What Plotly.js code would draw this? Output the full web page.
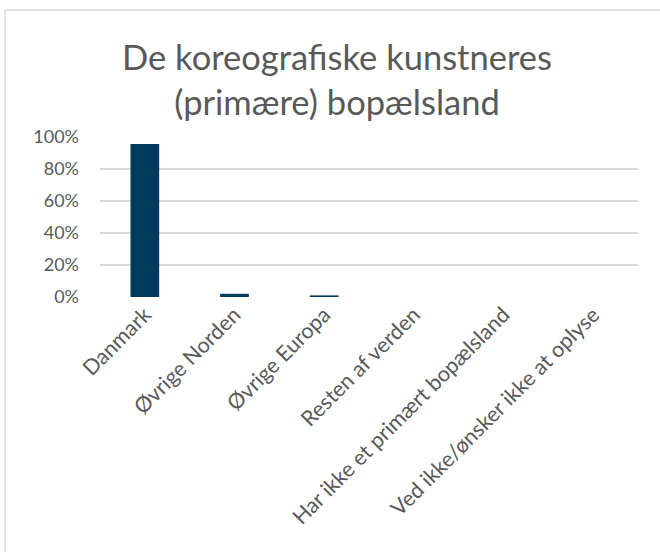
<!DOCTYPE html>
<html>
<head>
<meta charset="utf-8">
<script src="https://cdn.plot.ly/plotly-3.0.1.min.js"></script>
<style>
  html, body { margin: 0; padding: 0; background: #ffffff; }
  #chart { width: 660px; height: 552px; }
</style>
</head>
<body>
<div id="chart"></div>
<script>
const categories = [
  "Danmark",
  "Øvrige Norden",
  "Øvrige Europa",
  "Resten af verden",
  "Har ikke et primært bopælsland",
  "Ved ikke/ønsker ikke at oplyse"
];
const values = [95.6, 2.0, 1.0, 0, 0, 0];
const tickValues = [0, 20, 40, 60, 80, 100];
const tickLabels = ["0%", "20%", "40%", "60%", "80%", "100%"];

const fontFamily = "Lato, 'Open Sans', sans-serif";
const grey = "#595959";

const trace = {
  type: "bar",
  x: categories,
  y: values,
  marker: { color: "#003a5c" },
  width: 0.32,
  hoverinfo: "x+y"
};

const plotW = 538;
const layout = {
  width: 660,
  height: 552,
  margin: { l: 100, r: 22, t: 137, b: 255 },
  paper_bgcolor: "#ffffff",
  plot_bgcolor: "#ffffff",
  showlegend: false,
  font: { family: fontFamily, color: grey, size: 17 },
  title: {
    text: "De koreografiske kunstneres<br>(primære) bopælsland",
    font: { family: fontFamily, size: 34.5, color: grey },
    x: 337 / 660,
    xanchor: "center",
    xref: "container",
    y: 1 - 70 / 552,
    yanchor: "middle",
    yref: "container"
  },
  xaxis: {
    type: "category",
    tickangle: -45,
    showgrid: false,
    showline: false,
    zeroline: false,
    ticks: "",
    tickfont: { family: fontFamily, size: 21.5, color: grey },
    fixedrange: true
  },
  yaxis: {
    range: [0, 100],
    tickvals: tickValues,
    ticktext: tickLabels,
    showgrid: true,
    gridcolor: "#d9d9d9",
    gridwidth: 1.5,
    zeroline: false,
    showline: false,
    ticks: "",
    ticklabelstandoff: 20,
    tickfont: { family: fontFamily, size: 18, color: grey },
    fixedrange: true
  },
  shapes: [
    {
      type: "line", xref: "paper", yref: "paper",
      x0: (5 - 100) / plotW, x1: (5 - 100) / plotW,
      y0: -3, y1: (297 - 10) / 160,
      line: { color: "#d9d9d9", width: 1.5 }
    },
    {
      type: "line", xref: "paper", yref: "paper",
      x0: (5 - 100) / plotW, x1: 2,
      y0: (297 - 10) / 160, y1: (297 - 10) / 160,
      line: { color: "#d9d9d9", width: 1.5 }
    }
  ]
};

Plotly.newPlot("chart", [trace], layout, { displayModeBar: false, staticPlot: true });
</script>
</body>
</html>
